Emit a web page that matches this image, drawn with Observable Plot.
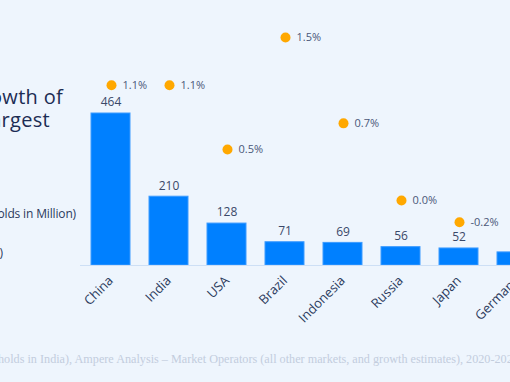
<!DOCTYPE html>
<html><head><meta charset="utf-8">
<script src="https://cdn.jsdelivr.net/npm/d3@7"></script>
<script src="https://cdn.jsdelivr.net/npm/@observablehq/plot@0.6"></script>
<style>
html,body{margin:0;padding:0;background:#EEF5FD;overflow:hidden;}
#wrap{position:relative;width:510px;height:382px;overflow:hidden;background:#EEF5FD;font-family:"Open Sans",sans-serif;color:#1f2f55;}
.layer{position:absolute;left:0;top:0;}
.layer svg{max-width:none !important;}
.t{position:absolute;white-space:nowrap;}
.title{font-size:20px;line-height:24px;font-weight:500;letter-spacing:0.3px;color:#1c2c54;}
.sub{font-size:12px;line-height:16px;letter-spacing:-0.15px;color:#2b3a5c;}
.cap{font-family:"Liberation Serif",serif;font-size:12.2px;line-height:14px;color:#c3cddd;left:-2px;top:352px;}
</style></head><body>
<div id="wrap">
  <div class="t title" style="right:447px;top:85px;">TV Household Growth of</div>
  <div class="t title" style="right:460px;top:108px;">the World's Largest</div>
  <div class="t sub" style="right:434px;top:206px;">(TV Households in Million)</div>
  <div class="t sub" style="right:507px;top:245px;">● Growth 2020-2025 (%)</div>
  <div class="t cap"><span style="position:absolute;right:100%;">Source: BARC (TV house</span>holds in India), Ampere Analysis – Market Operators (all other markets, and growth estimates), 2020-2025</div>
  <div class="layer" id="bars"></div>
  <div class="layer" id="dots"></div>
</div>
<script>
const countries = ["China","India","USA","Brazil","Indonesia","Russia","Japan","Germany"];
const households = [464,210,128,71,69,56,52,40];
const growth = [1.06,1.06,0.47,1.5,0.71,0.0,-0.2,-0.3];
const data = countries.map((c,i)=>({country:c, value:households[i], growth:growth[i]}));

const W = 560, H = 382;
const xOpts = {domain: countries, paddingInner:0.33, paddingOuter:0.16};
const font = "Open Sans, sans-serif";

const bars = Plot.plot({
  width:W, height:H, marginLeft:80, marginRight:13, marginTop:113, marginBottom:117,
  style:{background:"transparent", fontFamily:font, overflow:"visible", maxWidth:"none"},
  x:{...xOpts, label:null},
  y:{domain:[0,464], axis:null},
  marks:[
    Plot.barY(data,{x:"country", y:"value", fill:"#0080FF", stroke:"#3d9bff", strokeWidth:1}),
    Plot.ruleY([0],{stroke:"#cddff5"}),
    Plot.axisX({tickRotate:-45, tickSize:0, tickPadding:13, fontSize:13, color:"#2b3a5c", label:null}),
    Plot.text(data,{x:"country", y:"value", text:d=>String(d.value), dy:-11, fontSize:12, fill:"#3a4868"})
  ]
});
document.getElementById("bars").appendChild(bars);

const dots = Plot.plot({
  width:W, height:H, marginLeft:80, marginRight:13, marginTop:37, marginBottom:182,
  style:{background:"transparent", fontFamily:font, overflow:"visible", maxWidth:"none"},
  x:{...xOpts, axis:null},
  y:{domain:[0,1.5], axis:null},
  marks:[
    Plot.dot(data,{x:"country", y:"growth", r:5, fill:"#FFA800"}),
    Plot.text(data,{x:"country", y:"growth", text:d=>d.growth.toFixed(1)+"%", dx:11, textAnchor:"start", fontSize:11, fill:"#4a5778"})
  ]
});
document.getElementById("dots").appendChild(dots);
</script>
</body></html>
